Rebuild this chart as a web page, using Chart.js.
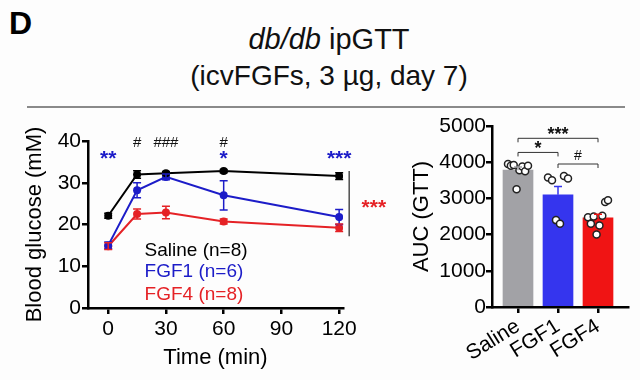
<!DOCTYPE html>
<html>
<head>
<meta charset="utf-8">
<script src="https://cdn.jsdelivr.net/npm/chart.js@4.4.1/dist/chart.umd.min.js"></script>
<style>
  body { margin: 0; background: #fff; font-family: "Liberation Sans", Arial, sans-serif; }
  #wrap { position: relative; width: 640px; height: 380px; overflow: hidden; background: #fdfdfd; }
  .panel { position: absolute; left: 9px; top: 5px; font-size: 32px; font-weight: bold; }
  .t1, .t2 { position: absolute; left: 0; width: 658px; text-align: center; color: #111; }
  .t1 { top: 23px; font-size: 29px; }
  .t2 { top: 60px; font-size: 28px; }
  .rule { position: absolute; left: 27px; top: 106px; width: 598px; height: 2px; background: #8a8a8a; }
  #gtt { position: absolute; left: 0; top: 110px; }
  #auc { position: absolute; left: 390px; top: 110px; }
</style>
</head>
<body>
<div id="wrap">
  <div class="panel">D</div>
  <div class="t1"><i>db/db</i> ipGTT</div>
  <div class="t2">(icvFGFs, 3 µg, day 7)</div>
  <div class="rule"></div>
  <canvas id="gtt" width="400" height="270"></canvas>
  <canvas id="auc" width="250" height="270"></canvas>
</div>
<script>
// glucose tolerance curve (mean, SEM)
const times = [0, 15, 30, 60, 120];
const salineMean = [22.1, 32.0, 32.3, 32.8, 31.6];
const salineSem = [0.6, 0.9, 0.4, 0.4, 0.8];
const fgf1Mean = [15.0, 28.2, 31.4, 27.0, 21.8];
const fgf1Sem = [0.8, 1.8, 0.7, 3.5, 1.8];
const fgf4Mean = [14.8, 22.5, 22.9, 20.7, 19.2];
const fgf4Sem = [0.8, 1.2, 1.5, 0.6, 0.9];
const legendLabels = ['Saline (n=8)', 'FGF1 (n=6)', 'FGF4 (n=8)'];

// significance marks above the curve
const markTimes = [0, 15, 30, 60, 60, 120];
const markLevels = [36.6, 39.5, 39.5, 39.5, 36.6, 36.6];
const markTexts = ['**', '#', '###', '#', '*', '***'];
const markBlue = [true, false, false, false, true, true];

// AUC bar chart
const groups = ['Saline', 'FGF1', 'FGF4'];
const aucMean = [3780, 3100, 2460];
const aucSem = [90, 230, 100];
const aucSaline = [3950, 3900, 3920, 3250, 3780, 3880, 3750, 3900];
const aucFgf1 = [3580, 3500, 2400, 2300, 3620, 3550];
const aucFgf4 = [2480, 2300, 2500, 2000, 2250, 2520, 2900, 2950];
const bracketFrom = [0, 0, 1];
const bracketTo = [2, 1, 2];
const bracketLevel = [4660, 4270, 3950];
const bracketText = ['***', '*', '#'];

const BLACK = '#000000', BLUE = '#1c1cc8', RED = '#e52226';
const GRAY_BAR = '#a2a2a6', BLUE_BAR = '#3535ee', RED_BAR = '#f01414';
const FONT = '"Liberation Sans", Arial, sans-serif';

const pts = (xs, ys) => xs.map((x, i) => ({ x: x, y: ys[i] }));

const errorBars = {
  id: 'errorBars',
  afterDatasetsDraw(chart) {
    const { ctx, scales: { x, y } } = chart;
    chart.data.datasets.forEach(ds => {
      if (!ds.sem) return;
      ctx.save();
      ctx.lineWidth = 1.5;
      ds.data.forEach((p, j) => {
        const c = ds.errColor || ds.borderColor;
        ctx.strokeStyle = Array.isArray(c) ? c[j] : c;
        const px = x.getPixelForValue(p.x);
        const top = y.getPixelForValue(p.y + ds.sem[j]);
        const bot = y.getPixelForValue(p.y - ds.sem[j]);
        ctx.beginPath();
        ctx.moveTo(px, top); ctx.lineTo(px, ds.upOnly ? y.getPixelForValue(p.y) : bot);
        ctx.moveTo(px - 4, top); ctx.lineTo(px + 4, top);
        if (!ds.upOnly) { ctx.moveTo(px - 4, bot); ctx.lineTo(px + 4, bot); }
        ctx.stroke();
      });
      ctx.restore();
    });
  }
};

const gttExtras = {
  id: 'gttExtras',
  afterDraw(chart) {
    const { ctx, scales: { x, y } } = chart;
    ctx.save();
    ctx.textAlign = 'center';
    ctx.textBaseline = 'middle';
    markTexts.forEach((t, i) => {
      const blue = markBlue[i];
      ctx.fillStyle = blue ? BLUE : '#111';
      ctx.font = blue ? 'bold 21px ' + FONT : '15px ' + FONT;
      ctx.fillText(t, x.getPixelForValue(markTimes[i]), y.getPixelForValue(markLevels[i]) + (blue ? 4 : 0));
    });
    // overall comparison bar at the right
    ctx.strokeStyle = '#222';
    ctx.lineWidth = 1.2;
    ctx.beginPath();
    ctx.moveTo(x.getPixelForValue(125.2), y.getPixelForValue(32.8));
    ctx.lineTo(x.getPixelForValue(125.2), y.getPixelForValue(17.2));
    ctx.stroke();
    ctx.fillStyle = RED;
    ctx.font = 'bold 21px ' + FONT;
    ctx.fillText('***', x.getPixelForValue(138), y.getPixelForValue(24.9) + 4);
    // legend as coloured text
    ctx.textAlign = 'left';
    ctx.font = '19px ' + FONT;
    const cols = [BLACK, BLUE, RED];
    const lv = [13.8, 8.6, 3.1];
    legendLabels.forEach((t, i) => {
      ctx.fillStyle = cols[i];
      ctx.fillText(t, x.getPixelForValue(18.9), y.getPixelForValue(lv[i]));
    });
    ctx.restore();
  }
};

const aucExtras = {
  id: 'aucExtras',
  afterDraw(chart) {
    const { ctx, scales: { x, y } } = chart;
    ctx.save();
    ctx.strokeStyle = '#333';
    ctx.lineWidth = 1;
    ctx.fillStyle = '#111';
    ctx.textAlign = 'center';
    ctx.textBaseline = 'bottom';
    bracketText.forEach((t, i) => {
      const x1 = x.getPixelForValue(bracketFrom[i]), x2 = x.getPixelForValue(bracketTo[i]);
      const yy = y.getPixelForValue(bracketLevel[i]);
      ctx.beginPath();
      ctx.moveTo(x1, yy + 4); ctx.lineTo(x1, yy); ctx.lineTo(x2, yy); ctx.lineTo(x2, yy + 4);
      ctx.stroke();
      ctx.font = (t === '#' ? '14px ' : 'bold 18px ') + FONT;
      ctx.fillText(t, (x1 + x2) / 2, yy + (t === '#' ? -1 : 6));
    });
    ctx.restore();
  }
};

const axisStyle = {
  border: { color: BLACK, width: 2.5 },
  grid: { drawOnChartArea: false, color: BLACK, lineWidth: 2.5, tickLength: 6 }
};

new Chart(document.getElementById('gtt'), {
  type: 'line',
  data: {
    datasets: [
      { data: pts(times, salineMean), sem: salineSem, borderColor: BLACK, backgroundColor: BLACK },
      { data: pts(times, fgf1Mean), sem: fgf1Sem, borderColor: BLUE, backgroundColor: BLUE },
      { data: pts(times, fgf4Mean), sem: fgf4Sem, borderColor: RED, backgroundColor: RED }
    ]
  },
  options: {
    responsive: false,
    animation: false,
    layout: { padding: { top: 31, right: 57, left: 0, bottom: 0 } },
    elements: { line: { borderWidth: 2, tension: 0 }, point: { radius: 4, borderWidth: 0 } },
    plugins: { legend: { display: false }, tooltip: { enabled: false } },
    scales: {
      x: {
        type: 'linear', min: -10.5, max: 122,
        ...axisStyle,
        ticks: { stepSize: 30, includeBounds: false, color: BLACK, padding: 3, font: { size: 21, family: FONT } },
        title: { display: true, text: 'Time (min)', color: BLACK, font: { size: 22, family: FONT }, padding: { top: 0, bottom: 9 } },
        afterFit: s => { s.height = 72; }
      },
      y: {
        min: 0, max: 40,
        ...axisStyle,
        ticks: { stepSize: 10, color: BLACK, padding: 1, font: { size: 21, family: FONT } },
        title: { display: true, text: 'Blood glucose (mM)', color: BLACK, font: { size: 22, family: FONT }, padding: { top: 22, bottom: 0 } },
        afterFit: s => { s.width = 88; }
      }
    }
  },
  plugins: [errorBars, gttExtras]
});

const dotsFor = (g, vals) => vals.map((v, i) => ({ x: g + (i - (vals.length - 1) / 2) * (0.5 / (vals.length - 1)), y: v }));

new Chart(document.getElementById('auc'), {
  type: 'bar',
  data: {
    datasets: [
      {
        data: pts([0, 1, 2], aucMean), sem: aucSem, upOnly: true,
        backgroundColor: [GRAY_BAR, BLUE_BAR, RED_BAR], borderColor: [GRAY_BAR, BLUE_BAR, RED_BAR],
        barThickness: 30, order: 2
      },
      {
        type: 'line', showLine: false, order: 1,
        data: [...dotsFor(0, aucSaline), ...dotsFor(1, aucFgf1), ...dotsFor(2, aucFgf4)],
        pointRadius: 3.5, pointBackgroundColor: '#fff', pointBorderColor: '#222', pointBorderWidth: 1.5
      }
    ]
  },
  options: {
    responsive: false,
    animation: false,
    layout: { padding: { top: 16, right: 12, left: 0, bottom: 0 } },
    plugins: { legend: { display: false }, tooltip: { enabled: false } },
    scales: {
      x: {
        type: 'linear', min: -0.65, max: 2.75, offset: false,
        ...axisStyle,
        grid: { ...axisStyle.grid, offset: false },
        ticks: {
          stepSize: 1, includeBounds: false, autoSkip: false, color: BLACK, padding: 1,
          minRotation: 32, maxRotation: 32, font: { size: 21, family: FONT },
          callback: v => groups[v] || ''
        },
        afterFit: s => { s.height = 73; }
      },
      y: {
        min: 0, max: 5000,
        ...axisStyle,
        ticks: { stepSize: 1000, color: BLACK, padding: 0, font: { size: 21, family: FONT }, callback: v => String(v) },
        title: { display: true, text: 'AUC (GTT)', color: BLACK, font: { size: 22, family: FONT }, padding: { top: 19, bottom: 0 } },
        afterFit: s => { s.width = 102; }
      }
    }
  },
  plugins: [errorBars, aucExtras]
});
</script>
</body>
</html>
